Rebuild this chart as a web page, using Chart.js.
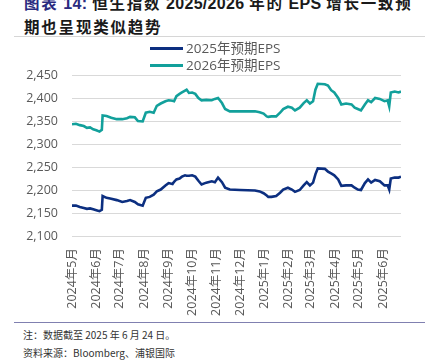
<!DOCTYPE html>
<html>
<head>
<meta charset="utf-8">
<script src="https://cdn.jsdelivr.net/npm/chart.js@4.4.1/dist/chart.umd.min.js"></script>
<style>
  body { margin: 0; width: 428px; height: 363px; overflow: hidden; background: #fff; position: relative; font-family: "Noto Sans CJK SC", sans-serif; }
  .title { position: absolute; left: 24px; top: -9px; font-size: 15.5px; font-weight: bold; line-height: 23px; color: #1a1a1a; white-space: nowrap; letter-spacing: 1.8px; }
  .title .lat { letter-spacing: 0.3px; font-family: "Liberation Sans", sans-serif; font-size: 16px; }
  .title .num { color: #2b2b7f; }
  .topline { position: absolute; left: 14px; top: 36px; width: 411px; height: 1px; background: #d6d6d6; }
  .botline { position: absolute; left: 14px; top: 322px; width: 411px; height: 1px; background: #8080b0; }
  .note { position: absolute; left: 23px; font-size: 10px; color: #333; }
  .legend { position: absolute; left: 150px; top: 40px; font-family: "Open Sans", "Noto Sans CJK SC", sans-serif; font-size: 13.5px; color: #595959; }
  .legend div { height: 17px; line-height: 17px; white-space: nowrap; }
  .legend span { display: inline-block; width: 33px; height: 3px; vertical-align: middle; margin-right: 3px; position: relative; top: -1px; }
  #wrap { position: absolute; left: 0; top: 38px; width: 428px; height: 282px; }
</style>
</head>
<body>
<div class="title"><span class="num">图表<span class="lat"> 14: </span></span>恒生指数<span class="lat"> 2025/2026 </span>年的<span class="lat"> EPS </span>增长一致预<br>期也呈现类似趋势</div>
<div class="topline"></div>
<div id="wrap"><canvas id="lineChart" width="428" height="282"></canvas></div>
<div class="legend" id="legend"></div>
<div class="botline"></div>
<div class="note" style="top:327px">注：数据截至 2025 年 6 月 24 日。</div>
<div class="note" style="top:345px">资料来源：Bloomberg、浦银国际</div>
<script>
// days counted from 2024-05-01
var days = [0, 5, 10, 15, 19, 23, 27, 31, 35, 38, 39, 44, 50, 57, 64, 70, 74, 80, 84, 90, 94, 99,
  104, 108, 113, 119, 123, 128, 130, 133, 137, 140, 144, 146, 149, 153, 157, 161, 165, 171, 178, 182,
  186, 191, 195, 201, 214, 233, 239, 244, 248, 250, 254, 260, 265, 269, 275, 280, 284, 290, 295, 299,
  303, 307, 310, 313, 322, 326, 330, 334, 339, 343, 349, 356, 360, 364, 368, 373, 377, 381, 386, 392,
  398, 402, 404, 406, 411, 416, 419];

var eps2025 = [2166, 2166, 2163, 2161, 2159, 2160, 2158, 2156, 2154, 2157, 2187, 2183, 2181, 2178, 2174, 2176, 2178, 2174, 2169, 2166, 2183, 2185,
  2190, 2197, 2201, 2210, 2215, 2213, 2218, 2223, 2225, 2229, 2232, 2231, 2231, 2232, 2229, 2220, 2212, 2216, 2219, 2217,
  2227, 2217, 2205, 2201, 2200, 2199, 2197, 2193, 2188, 2185, 2185, 2187, 2194, 2201, 2205, 2201, 2196, 2200, 2210, 2217,
  2210, 2216, 2234, 2247, 2246, 2240, 2236, 2232, 2223, 2209, 2210, 2210, 2205, 2201, 2200, 2215, 2223, 2216, 2222, 2219,
  2210, 2210, 2201, 2225, 2227, 2227, 2229];

var eps2026 = [2343, 2344, 2341, 2339, 2335, 2336, 2332, 2330, 2327, 2331, 2362, 2361, 2357, 2354, 2354, 2356, 2359, 2358, 2350, 2349, 2368, 2370,
  2368, 2383, 2388, 2393, 2395, 2394, 2393, 2404, 2409, 2412, 2416, 2418, 2411, 2412, 2409, 2400, 2395, 2396, 2395, 2398,
  2400, 2389, 2376, 2371, 2371, 2371, 2369, 2366, 2360, 2359, 2360, 2360, 2368, 2376, 2381, 2379, 2373, 2379, 2389, 2395,
  2388, 2393, 2418, 2431, 2430, 2427, 2417, 2412, 2400, 2386, 2388, 2386, 2379, 2376, 2373, 2386, 2395, 2391, 2400, 2398,
  2393, 2395, 2382, 2412, 2414, 2412, 2414];

var monthLabels = ["2024年5月", "2024年6月", "2024年7月", "2024年8月", "2024年9月", "2024年10月", "2024年11月",
  "2024年12月", "2025年1月", "2025年2月", "2025年3月", "2025年4月", "2025年5月", "2025年6月"];
var yTicks = [2100, 2150, 2200, 2250, 2300, 2350, 2400, 2450];

var seriesNames = ["2025年预期EPS", "2026年预期EPS"];
var seriesColors = ["#0c2f80", "#12a09b"];

// day offset of each month start
var start = new Date(2024, 4, 1);
var monthDays = monthLabels.map(function (m, i) {
  return Math.round((new Date(2024, 4 + i, 1) - start) / 86400000);
});

function toPoints(vals) {
  return vals.map(function (v, i) { return { x: days[i], y: v }; });
}

var tickFont = { family: "'Open Sans', 'Noto Sans CJK SC', sans-serif", size: 12.5 };

var ctxL = document.getElementById("lineChart").getContext('2d');
var myLineChart = new Chart(ctxL, {
  type: 'line',
  data: {
    datasets: [{
        label: seriesNames[0],
        data: toPoints(eps2025),
        borderColor: seriesColors[0],
        borderWidth: 2.6,
        pointRadius: 0,
        fill: false
      },
      {
        label: seriesNames[1],
        data: toPoints(eps2026),
        borderColor: seriesColors[1],
        borderWidth: 2.6,
        pointRadius: 0,
        fill: false
      }
    ]
  },
  options: {
    responsive: false,
    animation: false,
    devicePixelRatio: 1,
    layout: { padding: { top: 37, right: 27, left: 0, bottom: 0 } },
    plugins: { legend: { display: false }, tooltip: { enabled: false } },
    scales: {
      x: {
        type: 'linear',
        min: 0,
        max: days[days.length - 1],
        grid: { display: false, drawTicks: false },
        border: { display: false },
        afterBuildTicks: function (scale) {
          scale.ticks = monthDays.map(function (d) { return { value: d }; });
        },
        afterFit: function (scale) { scale.height = 84; },
        ticks: {
          autoSkip: false,
          minRotation: 90,
          maxRotation: 90,
          padding: 12,
          color: '#595959',
          font: tickFont,
          callback: function (value) {
            var i = monthDays.indexOf(value);
            return i >= 0 ? monthLabels[i] : '';
          }
        }
      },
      y: {
        min: yTicks[0],
        max: yTicks[yTicks.length - 1],
        grid: { color: '#d9d9d9', lineWidth: 1, drawTicks: false },
        border: { display: false },
        afterBuildTicks: function (scale) {
          scale.ticks = yTicks.map(function (v) { return { value: v }; });
        },
        afterFit: function (scale) { scale.width = 72; },
        ticks: {
          padding: 14,
          color: '#595959',
          font: tickFont,
          callback: function (value) { return value.toLocaleString('en-US'); }
        }
      }
    }
  }
});

// legend
var legend = document.getElementById("legend");
seriesNames.forEach(function (name, i) {
  var row = document.createElement("div");
  row.innerHTML = '<span style="background:' + seriesColors[i] + '"></span>' + name;
  legend.appendChild(row);
});
</script>
</body>
</html>
